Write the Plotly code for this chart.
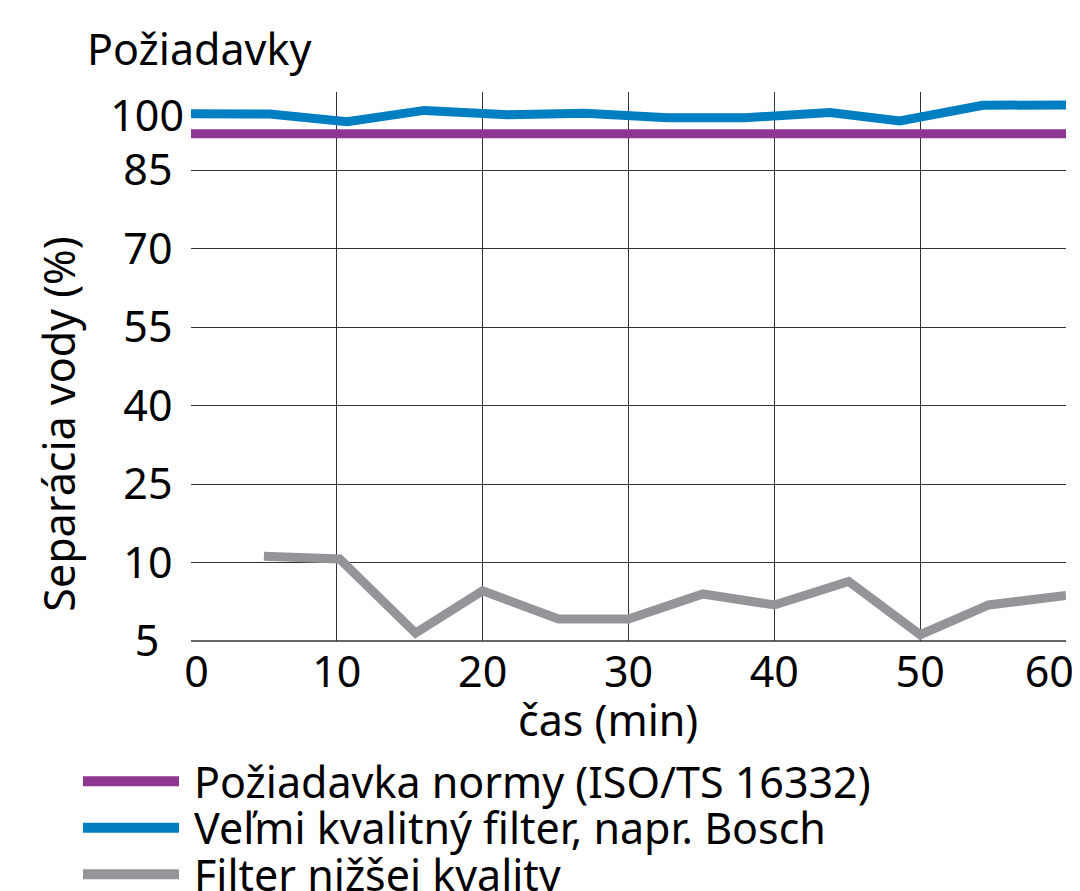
import numpy as np
import plotly.graph_objects as go

# ---------------- data ----------------
y_tick_values = [5, 10, 25, 40, 55, 70, 85, 100]
# labels are centred in the reference; figure/punctuation spaces pad the shorter ones
y_tick_labels = ["5\u2007", "10\u2008", "25\u2008", "40\u2008", "55\u2008", "70\u2008", "85\u2008", "100"]
# the chart's value axis is drawn piecewise: each labelled value sits at an index position
y_tick_positions = [0, 1, 2, 3, 4, 5, 6, 6.7]

x_tick_values = [0, 10, 20, 30, 40, 50, 60]
x_tick_labels = ["\u00a00", "10", "20", "30", "40", "50", "60\u00a0\u00a0\u00a0"]

series_names = [
    "Požiadavka normy (ISO/TS 16332)",
    "Veľmi kvalitný filter, napr. Bosch",
    "Filter nižšej kvality",
]
series_colors = ["#8E3792", "#007EC2", "#939598"]

norm_x = [0, 60]
norm_y = [95, 95]

bosch_x = [0, 5.4, 10.7, 16.0, 21.7, 27.0, 32.7, 38.0, 43.8, 48.6, 54.3, 60]
bosch_y = [100.5, 100.4, 98.3, 101.4, 100.2, 100.6, 99.4, 99.4, 100.8, 98.5, 102.8, 102.9]

low_x = [5, 10.2, 15.4, 20, 25.2, 30, 35.1, 40, 45.1, 50, 54.7, 60]
low_y = [11.2, 10.7, 5.5, 8.2, 6.4, 6.4, 8.0, 7.3, 8.8, 5.4, 7.3, 7.9]


def to_pos(vals):
    v = np.asarray(vals, float)
    p = np.interp(v, y_tick_values, y_tick_positions)
    slope = (y_tick_positions[-1] - y_tick_positions[-2]) / (y_tick_values[-1] - y_tick_values[-2])
    above = v > y_tick_values[-1]
    p[above] = y_tick_positions[-1] + (v[above] - y_tick_values[-1]) * slope
    return p


# ---------------- layout geometry ----------------
# page body has an 8px margin, so the figure is drawn 8px in from the window corner
OFF = 8
W, H = 1080 - OFF, 891 - OFF
PLOT_L, PLOT_R, PLOT_T, PLOT_B = 191, 1066, 92, 641.5   # window pixels
L, R, T = PLOT_L - OFF, W - (PLOT_R - OFF), PLOT_T - OFF
B = H - (PLOT_B - OFF)
PW, PH = W - L - R, H - T - B


def px(x):  # window pixel -> paper
    return (x - OFF - L) / PW


def py(y):
    return (H - B - (y - OFF)) / PH


FONT = "Noto Sans"
FS = 43
GRID = "#333333"

fig = go.Figure()
for name, color, xs, ys in zip(series_names, series_colors,
                               [norm_x, bosch_x, low_x], [norm_y, bosch_y, low_y]):
    fig.add_trace(go.Scatter(
        x=xs, y=to_pos(ys), customdata=ys, name=name, mode="lines",
        line=dict(color=color, width=9), showlegend=False,
        hovertemplate="%{x} min: %{customdata} %<extra>" + name + "</extra>",
    ))

# invisible trace carrying the secondary axes (grid for x, "100" label for y)
fig.add_trace(go.Scatter(x=[None], y=[None], xaxis="x2", yaxis="y2", showlegend=False, hoverinfo="skip"))

fig.update_layout(
    width=W, height=H,
    margin=dict(l=L, r=R, t=T, b=B, autoexpand=False),
    paper_bgcolor="white", plot_bgcolor="white",
    font=dict(family=FONT, size=FS, color="black"),
    xaxis=dict(
        range=[0, 60], tickvals=x_tick_values, ticktext=x_tick_labels,
        showgrid=False, zeroline=False, showline=False, ticks="",
        ticklabelstandoff=2, ticklabeloverflow="allow", fixedrange=True,
    ),
    xaxis2=dict(
        range=[0, 60], overlaying="x", tickvals=x_tick_values[1:-1],
        showgrid=True, gridcolor=GRID, gridwidth=1.3, showticklabels=False,
        zeroline=False, ticks="", anchor="y",
    ),
    yaxis=dict(
        range=[0, 7], tickvals=y_tick_positions[:-1], ticktext=y_tick_labels[:-1],
        showgrid=True, gridcolor=GRID, gridwidth=1.3, zeroline=False, showline=False,
        ticks="", ticklabelstandoff=6, ticklabeloverflow="allow", fixedrange=True,
    ),
    yaxis2=dict(
        range=[0, 7], overlaying="y", side="left", anchor="x",
        tickvals=y_tick_positions[-1:], ticktext=y_tick_labels[-1:],
        showgrid=False, zeroline=False, ticks="", ticklabelstandoff=6,
        ticklabeloverflow="allow",
    ),
    showlegend=False,
)

# bottom axis line (at 5)
fig.add_shape(type="line", xref="paper", yref="paper", x0=0, x1=1, y0=0, y1=0,
              line=dict(color=GRID, width=1.3))

annotations = [
    dict(text="Požiadavky", x=px(85), y=py(48), xanchor="left", yanchor="middle"),
    dict(text="Separácia vody (%)", x=px(59), y=py(425), xanchor="center", yanchor="middle",
         textangle=-90),
    dict(text="čas (min)", x=px(608), y=py(720), xanchor="center", yanchor="middle"),
]

legend_rows = [782, 828.5, 875]
for name, color, ry in zip(series_names, series_colors, legend_rows):
    fig.add_shape(type="line", xref="paper", yref="paper",
                  x0=px(83), x1=px(179), y0=py(ry), y1=py(ry),
                  line=dict(color=color, width=10))
    annotations.append(dict(text=name, x=px(192), y=py(ry), xanchor="left", yanchor="middle"))

for a in annotations:
    a.update(xref="paper", yref="paper", showarrow=False, font=dict(family=FONT, size=FS, color="black"))
fig.update_layout(annotations=annotations)

fig.write_html("out.html")
